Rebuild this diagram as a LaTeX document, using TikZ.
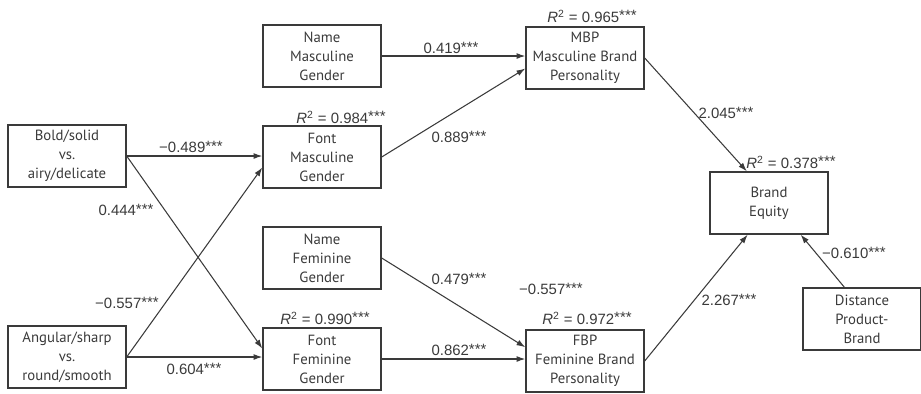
\documentclass[tikz,border=0pt]{standalone}
\usepackage{fontspec}
\setmainfont{Liberation Sans}
\newfontfamily\boxfont{PT Sans}
\usetikzlibrary{arrows.meta, positioning}
\definecolor{ink}{HTML}{3A3A3A}
\tikzset{
        box/.style={rectangle, draw=ink, line width=0.8pt, text=ink, minimum width=2.36cm, minimum height=1.24cm, align=center, inner sep=1pt, font=\boxfont\fontsize{8.4}{10.8}\selectfont},
        coef/.style={text=ink, inner sep=1pt, font=\fontsize{8.5}{10}\selectfont},
        arrow/.style={-{Latex[length=5pt,width=3.4pt]}, draw=ink, line width=0.6pt},
    }
\newcommand{\stars}{\raisebox{0.15ex}{***}}
\newcommand{\rsq}[1]{\textit{R}\textsuperscript{2} = #1\stars}

\begin{document}
\begin{tikzpicture}[x=0.02cm, y=-0.02cm]
        \useasboundingbox (0,0) rectangle (921,393);

        % typeface cues
        \node[box] (bold) at (67,156) {Bold/solid\\vs.\\airy/delicate};
        \node[box] (angular) at (67,357) {Angular/sharp\\vs.\\round/smooth};

        % gender perceptions
        \node[box] (namem) at (322,56) {Name\\Masculine\\Gender};
        \node[box] (fontm) at (322,157) {Font\\Masculine\\Gender};
        \node[box] (namef) at (322,258) {Name\\Feminine\\Gender};
        \node[box] (fontf) at (322,359) {Font\\Feminine\\Gender};

        % brand personality and equity
        \node[box] (mbp) at (585,58) {MBP\\Masculine Brand\\Personality};
        \node[box] (fbp) at (585,361) {FBP\\Feminine Brand\\Personality};
        \node[box] (equity) at (769,203) {Brand\\Equity};
        \node[box] (dist) at (862,319) {Distance\\Product-\\Brand};

        % paths
        \draw[arrow] (bold.east) -- (bold.east -| fontm.west);
        \draw[arrow] (bold.east) -- (fontf.170);
        \draw[arrow] (angular.east) -- (fontm.190);
        \draw[arrow] (angular.east) -- (angular.east -| fontf.west);
        \draw[arrow] (namem.east) -- (namem.east -| mbp.west);
        \draw[arrow] (fontm.east) -- (mbp.190);
        \draw[arrow] (namef.east) -- (fbp.167);
        \draw[arrow] (fontf.east) -- (fontf.east -| fbp.west);
        \draw[arrow] (mbp.east) -- (equity.125);
        \draw[arrow] (fbp.east) -- (equity.236);
        \draw[arrow] (dist.119) -- (equity.315);

        % coefficients
        \node[coef] (c1) at (191,147) {−0.489\stars};
        \node[coef] (c2) at (126,210) {0.444\stars};
        \node[coef] (c3) at (127,303) {−0.557\stars};
        \node[coef] (c4) at (194,369) {0.604\stars};
        \node[coef] (c5) at (451,48) {0.419\stars};
        \node[coef] (c6) at (459,137) {0.889\stars};
        \node[coef] (c7) at (459,279) {0.479\stars};
        \node[coef] (c8) at (459,350) {0.862\stars};
        \node[coef] (c9) at (551,289) {−0.557\stars};
        \node[coef] (c10) at (726,113) {2.045\stars};
        \node[coef] (c11) at (729,300) {2.267\stars};
        \node[coef] (c12) at (854,253) {−0.610\stars};

        % explained variance
        \node[coef] (r1) at (341,117) {\rsq{0.984}};
        \node[coef] (r2) at (325,318) {\rsq{0.990}};
        \node[coef] (r3) at (592,16) {\rsq{0.965}};
        \node[coef] (r4) at (587,318) {\rsq{0.972}};
        \node[coef] (r5) at (791,162) {\rsq{0.378}};
    \end{tikzpicture}
\end{document}
